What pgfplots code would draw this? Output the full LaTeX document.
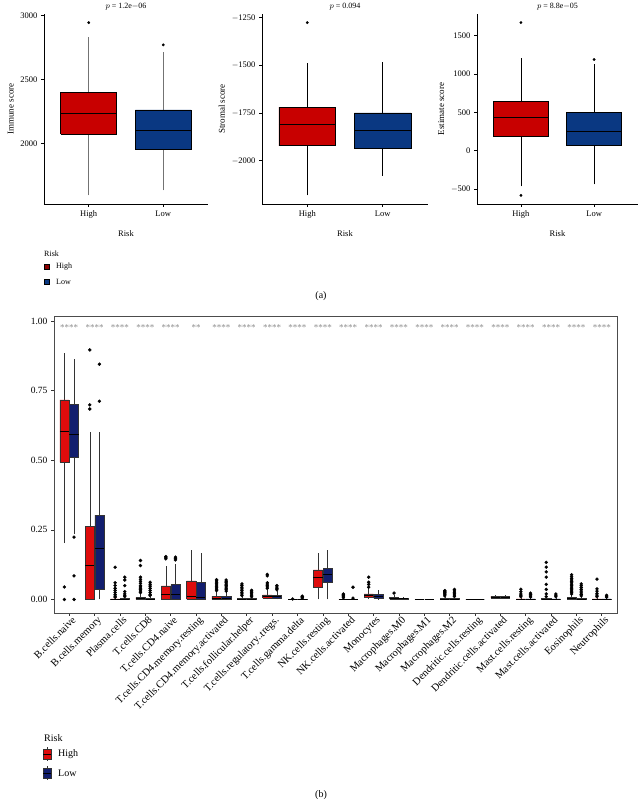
\documentclass[border=0pt]{standalone}
\usepackage{fontspec}
\setmainfont{Liberation Serif}
\usepackage{pgfplots}
\pgfplotsset{compat=1.18}
\definecolor{redA}{RGB}{200,0,0}
\definecolor{blueA}{RGB}{10,56,130}
\definecolor{redB}{RGB}{222,12,12}
\definecolor{blueB}{RGB}{18,30,110}

\pgfplotsset{
  gwhisk/.style={draw=black!55, line width=0.8pt, mark=none},
  awhisk/.style={draw=black, line width=0.7pt, mark=none},
  abox/.style={draw=black, line width=0.8pt, mark=none},
  gbox/.style={abox},
  amed/.style={draw=black, line width=0.8pt, mark=none},
  gmed/.style={amed},
  aout/.style={only marks, mark=*, mark size=1.2pt, black},
  bwhisk/.style={draw=black!80, line width=0.5pt, mark=none},
  bbox/.style={draw=black!80, line width=0.5pt, mark=none},
  bmed/.style={draw=black, line width=0.6pt, mark=none},
  bout/.style={only marks, mark=*, mark size=1.5pt, black},
  aaxis/.style={scale only axis, height=190pt, anchor=south west,
      xmin=0.4, xmax=2.6, axis x line*=bottom, axis y line*=left,
      axis line style={black, line width=0.6pt},
      tick align=outside, major tick length=3pt,
      tick style={black, line width=0.6pt},
      xtick={1,2}, xticklabels={High,Low}, xlabel={Risk},
      ticklabel style={font=\fontsize{8.5}{9}\selectfont},
      label style={font=\fontsize{8.5}{9}\selectfont},
      ylabel style={font=\fontsize{9}{10}\selectfont},
      xlabel style={yshift=-5pt},
      every axis title shift=0pt,
      title style={font=\fontsize{8}{9}\selectfont, at={(0.5,1)}, anchor=base,
        yshift=5pt, inner sep=0pt}},
}
% box: #1 style prefix, #2 fill, #3 position, #4 half width,
%      #5 lower whisker, #6 Q1, #7 median, #8 Q3, #9 upper whisker
\newcommand{\bxp}[9]{%
  \pgfmathsetmacro{\xl}{#3-#4}\pgfmathsetmacro{\xr}{#3+#4}%
  \addplot[#1whisk] coordinates {(#3,#5) (#3,#6)};
  \addplot[#1whisk] coordinates {(#3,#8) (#3,#9)};
  \addplot[#1box, fill=#2] coordinates {(\xl,#6) (\xr,#6) (\xr,#8) (\xl,#8) (\xl,#6)};
  \addplot[#1med] coordinates {(\xl,#7) (\xr,#7)};
}

\begin{document}
\begin{tikzpicture}
\path[use as bounding box] (0pt,0pt) rectangle (643pt,800pt);

% ---------- panel (a) ----------
\begin{axis}[aaxis, at={(44pt,596pt)}, width=164pt,
    ymin=1528, ymax=3011, ytick={2000,2500,3000}, yticklabels={2000,2500,3000},
    ylabel={Immune score}, title={$p$ = 1.2e$-$06}]
  \bxp{g}{redA}{1}{0.375}{1595}{2071}{2238}{2397}{2833}
  \bxp{g}{blueA}{2}{0.375}{1635}{1952}{2103}{2262}{2714}
  \addplot[aout] coordinates {(1,2944) (2,2770)};
\end{axis}

\begin{axis}[aaxis, at={(262pt,596pt)}, width=166pt,
    ymin=-2227, ymax=-1231, ytick={-2000,-1750,-1500,-1250},
    yticklabels={$-$2000,$-$1750,$-$1500,$-$1250},
    ylabel={Stromal score}, title={$p$ = 0.094}]
  \bxp{a}{redA}{1}{0.375}{-2182}{-1922}{-1812}{-1719}{-1490}
  \bxp{a}{blueA}{2}{0.375}{-2078}{-1937}{-1839}{-1750}{-1484}
  \addplot[aout] coordinates {(1,-1276)};
\end{axis}

\begin{axis}[aaxis, at={(477pt,596pt)}, width=161pt,
    ymin=-693, ymax=1780, ytick={-500,0,500,1000,1500},
    yticklabels={$-$500,0,500,1000,1500},
    ylabel={Estimate score}, title={$p$ = 8.8e$-$05}]
  \bxp{a}{redA}{1}{0.375}{-465}{181}{439}{642}{1213}
  \bxp{a}{blueA}{2}{0.375}{-439}{65}{258}{500}{1135}
  \addplot[aout] coordinates {(1,1668) (1,-581) (2,1187)};
\end{axis}

% legend (a)
\node[anchor=west, font=\fontsize{8}{9}\selectfont, inner sep=0pt] at (44pt,546pt) {Risk};
\draw[fill=redA!70!black, draw=black] (44pt,531pt) rectangle (49pt,536pt);
\node[anchor=west, font=\fontsize{8}{9}\selectfont, inner sep=0pt] at (56pt,533.5pt) {High};
\draw[fill=blueA, draw=black] (44pt,516pt) rectangle (49pt,521pt);
\node[anchor=west, font=\fontsize{8}{9}\selectfont, inner sep=0pt] at (56pt,518.5pt) {Low};
\node[font=\fontsize{10}{11}\selectfont] at (321pt,504pt) {(a)};

% ---------- panel (b) ----------
\begin{axis}[at={(54pt,187pt)}, anchor=south west, scale only axis,
    width=563pt, height=297pt, xmin=0.4, xmax=22.6, ymin=-0.0485, ymax=1.018,
    axis line style={black!70, line width=0.7pt},
    tick align=outside, major tick length=3pt, tick style={black!80, line width=0.6pt},
    xtick pos=left, ytick pos=left,
    xtick={1,...,22},
    xticklabels={B.cells.naive, B.cells.memory, Plasma.cells, T.cells.CD8,
      T.cells.CD4.naive, T.cells.CD4.memory.resting, T.cells.CD4.memory.activated,
      T.cells.follicular.helper, T.cells.regulatory..tregs., T.cells.gamma.delta,
      NK.cells.resting, NK.cells.activated, Monocytes, Macrophages.M0,
      Macrophages.M1, Macrophages.M2, Dendritic.cells.resting,
      Dendritic.cells.activated, Mast.cells.resting, Mast.cells.activated,
      Eosinophils, Neutrophils},
    xticklabel style={rotate=45, anchor=north east, inner sep=1pt, xshift=3pt,
      font=\fontsize{10.5}{11}\selectfont},
    ytick={0,0.25,0.5,0.75,1}, yticklabels={0.00,0.25,0.50,0.75,1.00},
    yticklabel style={font=\fontsize{9.5}{10}\selectfont}]
  % B.cells.naive
  \bxp{b}{redB}{0.81}{0.18}{0.202}{0.493}{0.605}{0.717}{0.885}
  \bxp{b}{blueB}{1.19}{0.18}{0.235}{0.511}{0.594}{0.701}{0.863}
  % B.cells.memory
  \bxp{b}{redB}{1.81}{0.18}{0}{0}{0.124}{0.262}{0.603}
  \bxp{b}{blueB}{2.19}{0.18}{0}{0.035}{0.185}{0.303}{0.603}
  % Plasma.cells
  \bxp{b}{redB}{2.81}{0.18}{0}{0}{0}{0.002}{0.004}
  \bxp{b}{blueB}{3.19}{0.18}{0}{0}{0}{0.003}{0.006}
  % T.cells.CD8
  \bxp{b}{redB}{3.81}{0.18}{0}{0}{0.003}{0.008}{0.02}
  \bxp{b}{blueB}{4.19}{0.18}{0}{0}{0.001}{0.004}{0.01}
  % T.cells.CD4.naive
  \bxp{b}{redB}{4.81}{0.18}{0}{0}{0.017}{0.049}{0.121}
  \bxp{b}{blueB}{5.19}{0.18}{0}{0}{0.017}{0.053}{0.128}
  % T.cells.CD4.memory.resting
  \bxp{b}{redB}{5.81}{0.18}{0}{0}{0.011}{0.067}{0.176}
  \bxp{b}{blueB}{6.19}{0.18}{0}{0}{0.008}{0.062}{0.166}
  % T.cells.CD4.memory.activated
  \bxp{b}{redB}{6.81}{0.18}{0}{0}{0.006}{0.012}{0.028}
  \bxp{b}{blueB}{7.19}{0.18}{0}{0}{0.006}{0.011}{0.026}
  % T.cells.follicular.helper
  \bxp{b}{redB}{7.81}{0.18}{0}{0}{0.001}{0.004}{0.01}
  \bxp{b}{blueB}{8.19}{0.18}{0}{0}{0.001}{0.003}{0.007}
  % T.cells.regulatory..tregs.
  \bxp{b}{redB}{8.81}{0.18}{0}{0.005}{0.01}{0.017}{0.035}
  \bxp{b}{blueB}{9.19}{0.18}{0}{0.004}{0.01}{0.016}{0.03}
  % T.cells.gamma.delta
  \bxp{b}{redB}{9.81}{0.18}{0}{0}{0}{0}{0.001}
  \bxp{b}{blueB}{10.19}{0.18}{0}{0}{0}{0.001}{0.002}
  % NK.cells.resting
  \bxp{b}{redB}{10.81}{0.18}{0}{0.044}{0.08}{0.106}{0.167}
  \bxp{b}{blueB}{11.19}{0.18}{0}{0.062}{0.092}{0.111}{0.176}
  % NK.cells.activated
  \bxp{b}{redB}{11.81}{0.18}{0}{0}{0}{0.001}{0.003}
  \bxp{b}{blueB}{12.19}{0.18}{0}{0}{0}{0.001}{0.002}
  % Monocytes
  \bxp{b}{redB}{12.81}{0.18}{0.002}{0.008}{0.014}{0.02}{0.037}
  \bxp{b}{blueB}{13.19}{0.18}{0}{0.003}{0.01}{0.018}{0.035}
  % Macrophages.M0
  \bxp{b}{redB}{13.81}{0.18}{0}{0.001}{0.004}{0.008}{0.015}
  \bxp{b}{blueB}{14.19}{0.18}{0}{0.001}{0.003}{0.005}{0.01}
  % Macrophages.M1
  \bxp{b}{redB}{14.81}{0.18}{0}{0}{0}{0}{0.001}
  \bxp{b}{blueB}{15.19}{0.18}{0}{0}{0}{0}{0.001}
  % Macrophages.M2
  \bxp{b}{redB}{15.81}{0.18}{0}{0}{0.001}{0.004}{0.009}
  \bxp{b}{blueB}{16.19}{0.18}{0}{0}{0.001}{0.003}{0.007}
  % Dendritic.cells.resting
  \bxp{b}{redB}{16.81}{0.18}{0}{0}{0}{0}{0}
  \bxp{b}{blueB}{17.19}{0.18}{0}{0}{0}{0}{0}
  % Dendritic.cells.activated
  \bxp{b}{redB}{17.81}{0.18}{0.003}{0.006}{0.009}{0.012}{0.016}
  \bxp{b}{blueB}{18.19}{0.18}{0.003}{0.006}{0.009}{0.012}{0.016}
  % Mast.cells.resting
  \bxp{b}{redB}{18.81}{0.18}{0}{0}{0}{0.002}{0.005}
  \bxp{b}{blueB}{19.19}{0.18}{0}{0}{0}{0.002}{0.005}
  % Mast.cells.activated
  \bxp{b}{redB}{19.81}{0.18}{0}{0}{0}{0.003}{0.006}
  \bxp{b}{blueB}{20.19}{0.18}{0}{0}{0}{0.002}{0.005}
  % Eosinophils
  \bxp{b}{redB}{20.81}{0.18}{0}{0}{0.005}{0.007}{0.015}
  \bxp{b}{blueB}{21.19}{0.18}{0}{0}{0.002}{0.004}{0.009}
  % Neutrophils
  \bxp{b}{redB}{21.81}{0.18}{0}{0}{0}{0.002}{0.005}
  \bxp{b}{blueB}{22.19}{0.18}{0}{0}{0}{0.002}{0.004}
  % outliers
  \addplot[bout] coordinates {
    (0.81,0.045) (0.81,0) (1.19,0.224) (1.19,0.085) (1.19,0)
    (1.81,0.684) (1.81,0.699) (1.81,0.896) (2.19,0.712) (2.19,0.845)
    (2.81,0.116) (2.81,0.06) (2.81,0.05) (2.81,0.04) (2.81,0.032) (2.81,0.025) (2.81,0.018) (2.81,0.012) (2.81,0.008)
    (3.19,0.08) (3.19,0.07) (3.19,0.05) (3.19,0.028) (3.19,0.02) (3.19,0.015) (3.19,0.01)
    (3.81,0.14) (3.81,0.122) (3.81,0.08) (3.81,0.072) (3.81,0.065) (3.81,0.058) (3.81,0.05) (3.81,0.045) (3.81,0.04) (3.81,0.035) (3.81,0.03) (3.81,0.025)
    (4.19,0.062) (4.19,0.055) (4.19,0.048) (4.19,0.04) (4.19,0.032) (4.19,0.025) (4.19,0.018) (4.19,0.014)
    (4.81,0.146) (4.81,0.15) (4.81,0.154) (5.19,0.142) (5.19,0.148) (5.19,0.152)
    (6.81,0.032) (6.81,0.037) (6.81,0.042) (6.81,0.047) (6.81,0.052) (6.81,0.057) (6.81,0.062) (6.81,0.067) (6.81,0.071)
    (7.19,0.03) (7.19,0.035) (7.19,0.04) (7.19,0.045) (7.19,0.05) (7.19,0.055) (7.19,0.06) (7.19,0.065) (7.19,0.07)
    (7.81,0.014) (7.81,0.02) (7.81,0.026) (7.81,0.032) (7.81,0.038) (7.81,0.044) (7.81,0.05) (7.81,0.056)
    (8.19,0.01) (8.19,0.015) (8.19,0.02) (8.19,0.025) (8.19,0.03) (8.19,0.033)
    (8.81,0.04) (8.81,0.045) (8.81,0.05) (8.81,0.055) (8.81,0.06) (8.81,0.085) (8.81,0.09)
    (9.19,0.035) (9.19,0.04) (9.19,0.045) (9.19,0.05)
    (9.81,0.002) (10.19,0.005) (10.19,0.008) (10.19,0.01) (10.19,0.012)
    (11.81,0.006) (11.81,0.01) (11.81,0.014) (11.81,0.018) (11.81,0.02)
    (12.19,0.005) (12.19,0.044)
    (12.81,0.044) (12.81,0.054) (12.81,0.062) (12.81,0.08)
    (13.81,0.023)
    (15.81,0.013) (15.81,0.017) (15.81,0.021) (15.81,0.025) (15.81,0.029) (15.81,0.032)
    (16.19,0.011) (16.19,0.016) (16.19,0.021) (16.19,0.026) (16.19,0.031) (16.19,0.036)
    (18.81,0.01) (18.81,0.015) (18.81,0.02) (18.81,0.028) (18.81,0.037)
    (19.19,0.009) (19.19,0.013) (19.19,0.018) (19.19,0.023)
    (19.81,0.01) (19.81,0.02) (19.81,0.036) (19.81,0.054) (19.81,0.08) (19.81,0.099) (19.81,0.116) (19.81,0.133)
    (20.19,0.01) (20.19,0.015) (20.19,0.02)
    (20.81,0.02) (20.81,0.025) (20.81,0.03) (20.81,0.035) (20.81,0.04) (20.81,0.045) (20.81,0.05) (20.81,0.055) (20.81,0.06) (20.81,0.065) (20.81,0.07) (20.81,0.075) (20.81,0.082) (20.81,0.089)
    (21.19,0.013) (21.19,0.018) (21.19,0.024) (21.19,0.03) (21.19,0.036) (21.19,0.043) (21.19,0.05) (21.19,0.056)
    (21.81,0.01) (21.81,0.016) (21.81,0.022) (21.81,0.03) (21.81,0.038) (21.81,0.073)
    (22.19,0.008) (22.19,0.012) (22.19,0.015)
  };
  % significance labels
  \addplot[draw=none, mark=none, nodes near coords, point meta=explicit symbolic,
      nodes near coords style={anchor=center, inner sep=0pt, text=black!45,
        font=\fontsize{9}{9}\selectfont}]
    coordinates {(1,0.975)[****] (2,0.975)[****] (3,0.975)[****] (4,0.975)[****]
      (5,0.975)[****] (6,0.975)[**] (7,0.975)[****] (8,0.975)[****] (9,0.975)[****]
      (10,0.975)[****] (11,0.975)[****] (12,0.975)[****] (13,0.975)[****]
      (14,0.975)[****] (15,0.975)[****] (16,0.975)[****] (17,0.975)[****]
      (18,0.975)[****] (19,0.975)[****] (20,0.975)[****] (21,0.975)[****]
      (22,0.975)[****]};
\end{axis}

% legend (b)
\node[anchor=west, font=\fontsize{10}{11}\selectfont, inner sep=0pt] at (44pt,62pt) {Risk};
\draw[black!80, line width=0.5pt] (47pt,39pt) -- (47pt,53pt);
\draw[fill=redB, draw=black!80, line width=0.5pt] (43pt,41pt) rectangle (51pt,51pt);
\draw[black, line width=0.6pt] (43pt,46pt) -- (51pt,46pt);
\node[anchor=west, font=\fontsize{10}{11}\selectfont, inner sep=0pt] at (58pt,46pt) {High};
\draw[black!80, line width=0.5pt] (47pt,20pt) -- (47pt,34pt);
\draw[fill=blueB, draw=black!80, line width=0.5pt] (43pt,22pt) rectangle (51pt,32pt);
\draw[black, line width=0.6pt] (43pt,27pt) -- (51pt,27pt);
\node[anchor=west, font=\fontsize{10}{11}\selectfont, inner sep=0pt] at (58pt,27pt) {Low};
\node[font=\fontsize{10}{11}\selectfont] at (321pt,5pt) {(b)};
\end{tikzpicture}
\end{document}
